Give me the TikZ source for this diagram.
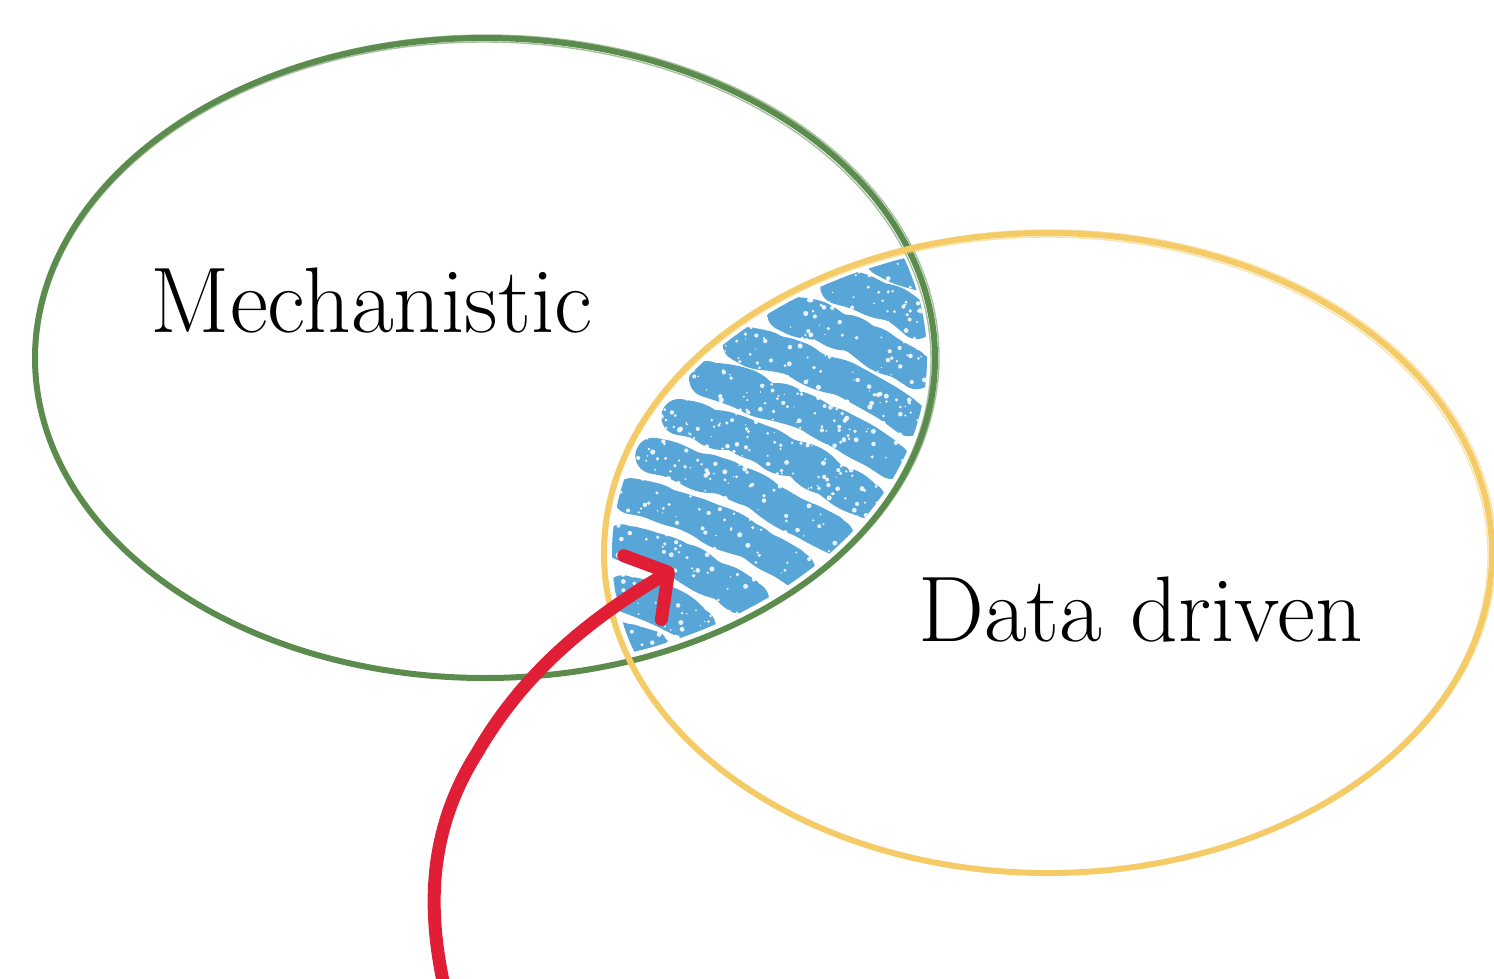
\documentclass[tikz,border=0pt]{standalone}
\usetikzlibrary{arrows.meta,decorations.pathmorphing}
\definecolor{mechgreen}{HTML}{5B8C4E}
\definecolor{datayellow}{HTML}{F4CB67}
\definecolor{chalkblue}{HTML}{58A5D8}
\definecolor{arrowred}{HTML}{E01F36}
\begin{document}
\begin{tikzpicture}[x=0.01cm,y=0.01cm,
  label/.style={anchor=base,inner sep=0pt,font=\fontsize{26.5}{32}\selectfont},
  rim/.style={line width=0.06cm},
  rimtrace/.style={line width=0.014cm,opacity=0.55},
  scribble/.style={chalkblue,line cap=round,line join=round,
    decorate,decoration={random steps,segment length=0.18cm,amplitude=0.04cm},rounded corners=0.07cm},
  pointer/.style={arrowred,line width=0.13cm,line cap=round,
    -{Straight Barb[length=0.3cm,width=0.74cm,round]}}]
\useasboundingbox (0,0) rectangle (1494,-978);
\pgfmathsetseed{11}

\coordinate (gc) at (485,-358);
\coordinate (yc) at (1048,-553);

% chalk scribble: crayon strokes across the overlap of the two sets
\begin{scope}
  \clip (gc) ellipse [x radius=442,y radius=312];
  \clip (yc) ellipse [x radius=436,y radius=312];
  \begin{scope}[shift={(767,-456)},rotate=-24]
    \foreach \v/\a/\b in {-228/-60/-20, -184/-76/6, -138/-98/44, -92/-108/74,
        -46/-104/96, 0/-96/110, 46/-86/116, 92/-70/114, 138/-42/102,
        184/-4/82, 228/26/64}{
      \draw[scribble,line width=0.36cm] (\a,\v) to[bend left=7] (\b,\v);
      \draw[scribble,line width=0.22cm] (\a+8,\v+9) to[bend left=7] (\b-6,\v+9);
    }
  \end{scope}
  \foreach \n in {1,...,1000}{
    \pgfmathsetmacro\sx{600+rnd*340}
    \pgfmathsetmacro\sy{-(250+rnd*420)}
    \pgfmathsetmacro\sr{0.7+rnd*1.9}
    \fill[white,opacity=0.85] (\sx,\sy) circle [radius=\sr];
  }
\end{scope}

% the two sets, drawn as pencil rims
\draw[mechgreen,rim] (gc) ellipse [x radius=450,y radius=320];
\draw[mechgreen,rimtrace] ([shift={(2,1)}]gc) ellipse [x radius=452,y radius=322];
\draw[mechgreen,rimtrace] ([shift={(-1,-2)}]gc) ellipse [x radius=447,y radius=318];

\draw[datayellow,rim] (yc) ellipse [x radius=444,y radius=320];
\draw[datayellow,rimtrace] ([shift={(2,1)}]yc) ellipse [x radius=446,y radius=322];
\draw[datayellow,rimtrace] ([shift={(-1,-2)}]yc) ellipse [x radius=441,y radius=318];

% labels
\node[label] (mech) at (371.5,-332) {Mechanistic};
\node[label] (data) at (1140.5,-641) {Data driven};

% arrow pointing into the overlap
\coordinate (tail) at (446,-995);
\coordinate (bend) at (477,-753);
\coordinate (tip) at (674,-569);
\draw[pointer] (tail) .. controls (430,-925) and (422,-840) .. (bend)
  .. controls (522,-675) and (586,-621) .. (tip);
\end{tikzpicture}
\end{document}
